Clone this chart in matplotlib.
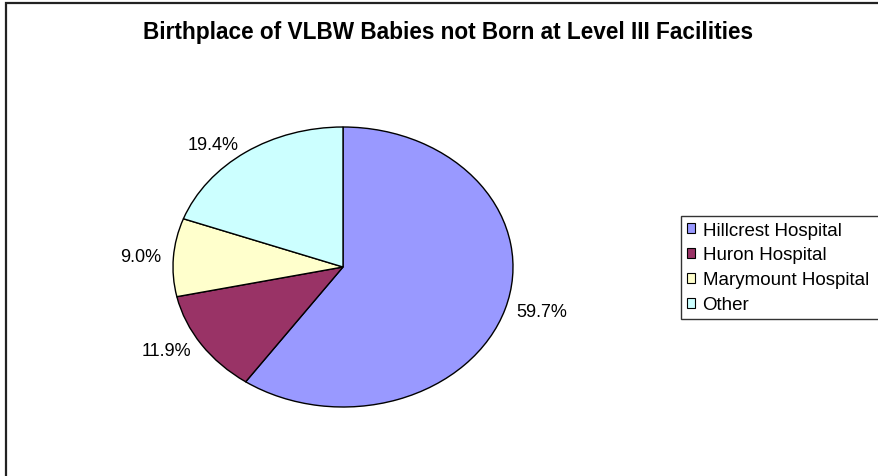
import matplotlib
matplotlib.use("Agg")
import matplotlib.pyplot as plt
from matplotlib.patches import Rectangle, Patch

categories = ["Hillcrest Hospital", "Huron Hospital", "Marymount Hospital", "Other"]
values = [59.7, 11.9, 9.0, 19.4]
pct_labels = ["59.7%", "11.9%", "9.0%", "19.4%"]
colors = ["#9999FF", "#993366", "#FFFFCC", "#CCFFFF"]
title = "Birthplace of VLBW Babies not Born at Level III Facilities"

W, H = 879, 477
fig = plt.figure(figsize=(W / 100, H / 100), dpi=100)
fig.patch.set_facecolor("white")
plt.rcParams["font.family"] = ["Liberation Sans", "DejaVu Sans"]

# outer chart border (left and top visible)
fig.patches.append(Rectangle((6 / W, -0.1), 1.2, 1.1 - 4 / H, transform=fig.transFigure,
                             fill=False, edgecolor="#222222", linewidth=1.6, clip_on=False))

cx, cy, rx, ry = 343, 268, 170, 140
ax = fig.add_axes([(cx - rx) / W, 1 - (cy + ry) / H, 2 * rx / W, 2 * ry / H])
wedges, texts = ax.pie(values, labels=pct_labels, colors=colors, startangle=90,
                       counterclock=False, labeldistance=1.07,
                       wedgeprops=dict(edgecolor="black", linewidth=1.0),
                       textprops=dict(fontsize=13, color="black"))
ax.set_aspect("auto")
ax.set_xlim(-1, 1)
ax.set_ylim(-1, 1)
ax.axis("off")

fig.text(448 / W, 1 - 33 / H, title, ha="center", va="center",
         fontsize=16.3, fontweight="bold")

handles = [Patch(facecolor=c, edgecolor="black", linewidth=0.8) for c in colors]
leg = fig.legend(handles, categories, loc="upper left", mode="expand",
                 bbox_to_anchor=(681 / W, 1 - 318 / H, 0.25, 101 / H),
                 bbox_transform=fig.transFigure,
                 fontsize=13.5, frameon=True, fancybox=False, shadow=False,
                 borderaxespad=0, borderpad=0.3, labelspacing=0.42,
                 handlelength=0.45, handleheight=0.45, handletextpad=0.4)
leg.get_frame().set_edgecolor("black")
leg.get_frame().set_linewidth(1.0)

fig.savefig("out.png", dpi=100)
